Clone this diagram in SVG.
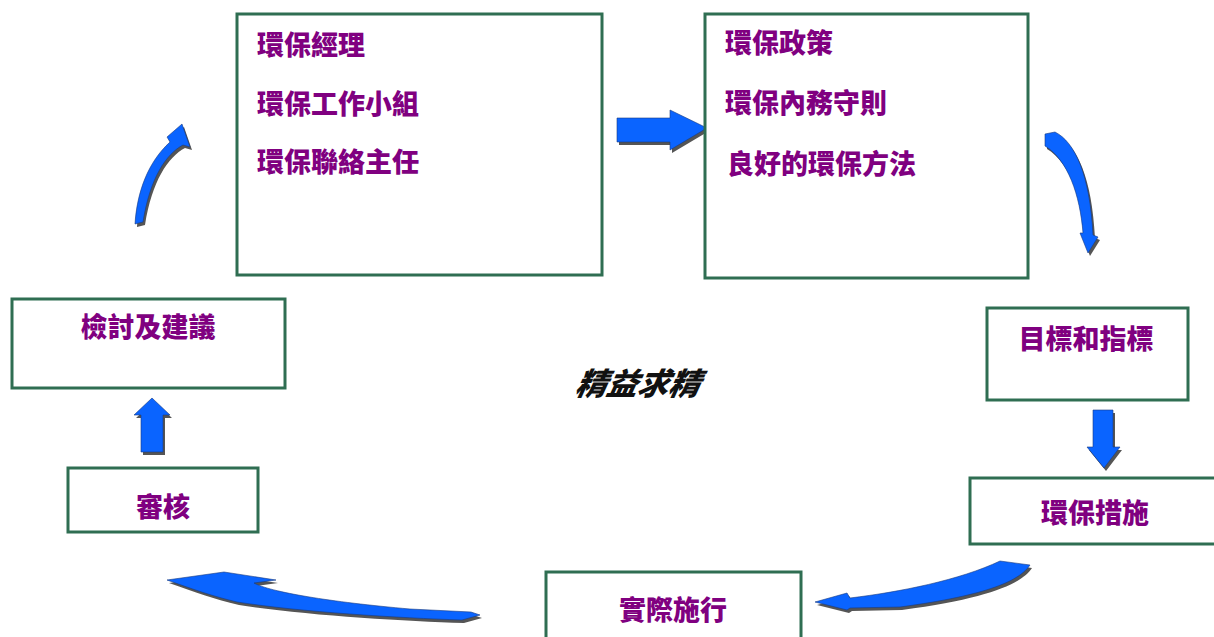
<svg xmlns="http://www.w3.org/2000/svg" width="1214" height="637" viewBox="0 0 1214 637">
<style>
.box{fill:#fff;stroke:#2f6e52;stroke-width:3}
.t{font-family:"Noto Sans CJK TC","Noto Sans CJK SC",sans-serif;font-weight:900;font-size:27px;fill:#800080}
.c{text-anchor:middle}
.arr{fill:#0a64ff;stroke:#1a3a80;stroke-width:0.6}
.sh{fill:#555;transform:translate(2px,3px)}
</style>
<defs>
<path id="a1" d="M617,118 L670,118 L670,110 L707,128 L670,150 L670,142 L617,142 Z"/>
<path id="a2" d="M141,452 L141,415 L134,415 L152,398 L170,415 L163,415 L163,452 Z"/>
<path id="a3" d="M1093,410 L1113,410 L1113,447 L1120,447 L1104,468 L1087,447 L1093,447 Z"/>
<path id="a4" d="M135,224 C137,192 148,162 170,142 L167,137 L182,124 L190,147 L183,145 C166,154 150,178 143,222 Z"/>
<path id="a5" d="M1045,134 L1055,132 C1075,142 1090,175 1093,235 L1098,237 L1088,253 L1080,233 L1083,233 C1080,195 1068,160 1045,146 Z"/>
<path id="a6" d="M1000,561 L1030,565 C1020,580 990,595 900,607 L850,608 L847,610 L815,602 L847,593 L850,598 C900,592 960,580 1000,561 Z"/>
<path id="a7" d="M167,580 L224,572 L276,580 L254,583 C270,592 330,602 410,609 L471,612 L480,615 L462,620 C400,618 300,612 237,602 C212,596 195,590 167,580 Z"/>
</defs>
<g id="connectors">
<use href="#a1" class="sh"/><use href="#a1" class="arr"/>
<use href="#a2" class="sh"/><use href="#a2" class="arr"/>
<use href="#a3" class="sh"/><use href="#a3" class="arr"/>
<use href="#a4" class="sh"/><use href="#a4" class="arr"/>
<use href="#a5" class="sh"/><use href="#a5" class="arr"/>
<use href="#a6" class="sh"/><use href="#a6" class="arr"/>
<use href="#a7" class="sh"/><use href="#a7" class="arr"/>
</g>
<g id="node-org">
<rect class="box" x="237" y="14" width="365" height="261"/>
<text class="t" x="257" y="55">環保經理</text>
<text class="t" x="257" y="114">環保工作小組</text>
<text class="t" x="257" y="172">環保聯絡主任</text>
</g>
<g id="node-policy">
<rect class="box" x="705" y="14" width="323" height="264"/>
<text class="t" x="725" y="53">環保政策</text>
<text class="t" x="725" y="113">環保內務守則</text>
<text class="t" x="727" y="174">良好的環保方法</text>
</g>
<g id="node-review">
<rect class="box" x="12" y="299" width="273" height="89"/>
<text class="t c" x="148" y="337">檢討及建議</text>
</g>
<g id="node-audit">
<rect class="box" x="68" y="468" width="190" height="64"/>
<text class="t c" x="163" y="517">審核</text>
</g>
<g id="node-targets">
<rect class="box" x="987" y="308" width="201" height="92"/>
<text class="t c" x="1086" y="349">目標和指標</text>
</g>
<g id="node-measures">
<rect class="box" x="970" y="478" width="260" height="66"/>
<text class="t c" x="1095" y="523">環保措施</text>
</g>
<g id="node-implement">
<rect class="box" x="546" y="572" width="255" height="80"/>
<text class="t c" x="673" y="620">實際施行</text>
</g>
<g id="center">
<text x="636" y="395" font-family="Noto Sans CJK TC,Noto Sans CJK SC,sans-serif" font-weight="900" font-style="italic" font-size="31" fill="#111" text-anchor="middle" transform="skewX(-12) translate(84,0)">精益求精</text>
</g>
</svg>
